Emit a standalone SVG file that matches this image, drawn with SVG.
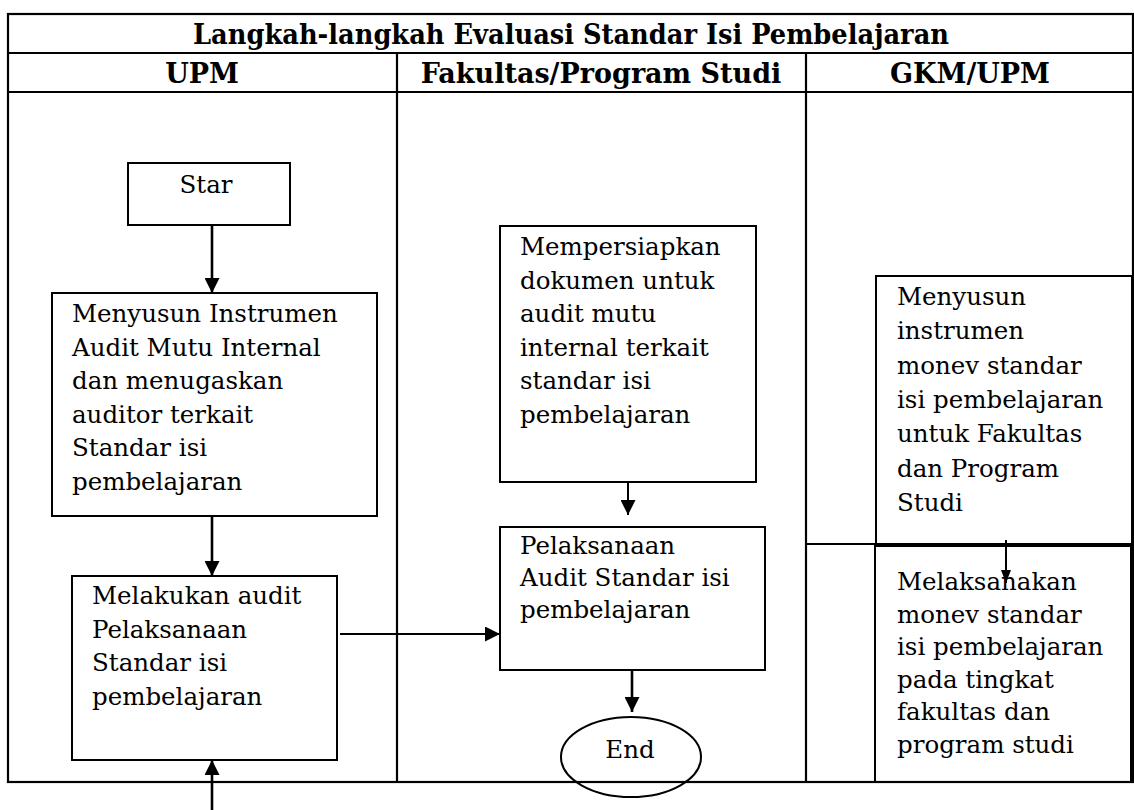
<svg xmlns="http://www.w3.org/2000/svg" width="1134" height="810" viewBox="0 0 1134 810">
<style>
.tbl{stroke:#000;stroke-width:2.2;fill:none}
.box{fill:none;stroke:#000;stroke-width:2}
.t{font-family:"DejaVu Serif","Liberation Serif",serif;font-size:24.5px;fill:#000}
.h{font-family:"DejaVu Serif","Liberation Serif",serif;font-weight:bold;font-size:27px;fill:#000;text-anchor:middle}
.c{stroke:#000;stroke-width:2.6;fill:none}
.c2{stroke:#000;stroke-width:2;fill:none}
</style>
<defs>
<marker id="ah" markerUnits="userSpaceOnUse" markerWidth="15" markerHeight="15" refX="15" refY="7.5" orient="auto">
<path d="M0,0 L15,7.5 L0,15 z" fill="#000"/>
</marker>
<marker id="ahs" markerUnits="userSpaceOnUse" markerWidth="13" markerHeight="10" refX="13" refY="5" orient="auto">
<path d="M0,0 L13,5 L0,10 z" fill="#000"/>
</marker>
</defs>
<rect width="1134" height="810" fill="#fff"/>
<g id="table">
<rect class="tbl" x="8" y="14" width="1125" height="768"/>
<line class="tbl" x1="8" y1="53" x2="1133" y2="53"/>
<line class="tbl" x1="8" y1="92" x2="1133" y2="92"/>
<line class="tbl" x1="397" y1="53" x2="397" y2="782"/>
<line class="tbl" x1="806" y1="53" x2="806" y2="782"/>
<line class="tbl" x1="806" y1="544" x2="1133" y2="544"/>
<text class="h" x="571" y="44" font-size="29" textLength="756" lengthAdjust="spacingAndGlyphs">Langkah-langkah Evaluasi Standar Isi Pembelajaran</text>
<text class="h" x="202" y="83">UPM</text>
<text class="h" x="601" y="83">Fakultas/Program Studi</text>
<text class="h" x="970" y="83">GKM/UPM</text>
</g>
<g id="connectors">
<line class="c" x1="212" y1="225" x2="212" y2="293" marker-end="url(#ah)"/>
<line class="c" x1="212" y1="516" x2="212" y2="576" marker-end="url(#ah)"/>
<line class="c" x1="212" y1="810" x2="212" y2="760" marker-end="url(#ah)"/>
<line class="c2" x1="340" y1="634" x2="500" y2="634" marker-end="url(#ah)"/>
<line class="c2" x1="628" y1="482" x2="628" y2="515" marker-end="url(#ah)"/>
<line class="c" x1="632" y1="670" x2="632" y2="712" marker-end="url(#ah)"/>
<line class="c2" x1="1006" y1="540" x2="1006" y2="583" marker-end="url(#ahs)"/>
</g>
<g id="star">
<rect class="box" x="128" y="163" width="162" height="62"/>
<text class="t" x="206" y="193" text-anchor="middle">Star</text>
</g>
<g id="menyusun-instrumen">
<rect class="box" x="52" y="293" width="325" height="223"/>
<text class="t"><tspan x="72" y="322">Menyusun Instrumen</tspan><tspan x="72" y="355.6">Audit Mutu Internal</tspan><tspan x="72" y="389.2">dan menugaskan</tspan><tspan x="72" y="422.8">auditor terkait</tspan><tspan x="72" y="456.4">Standar isi</tspan><tspan x="72" y="490">pembelajaran</tspan></text>
</g>
<g id="melakukan-audit">
<rect class="box" x="72" y="576" width="265" height="184"/>
<text class="t"><tspan x="92" y="604">Melakukan audit</tspan><tspan x="92" y="637.6">Pelaksanaan</tspan><tspan x="92" y="671.2">Standar isi</tspan><tspan x="92" y="704.8">pembelajaran</tspan></text>
</g>
<g id="mempersiapkan">
<rect class="box" x="500" y="226" width="256" height="256"/>
<text class="t"><tspan x="520" y="255">Mempersiapkan</tspan><tspan x="520" y="288.6">dokumen untuk</tspan><tspan x="520" y="322.2">audit mutu</tspan><tspan x="520" y="355.8">internal terkait</tspan><tspan x="520" y="389.4">standar isi</tspan><tspan x="520" y="423">pembelajaran</tspan></text>
</g>
<g id="pelaksanaan">
<rect class="box" x="500" y="527" width="265" height="143"/>
<text class="t"><tspan x="520" y="554">Pelaksanaan</tspan><tspan x="520" y="586">Audit Standar isi</tspan><tspan x="520" y="618">pembelajaran</tspan></text>
</g>
<g id="end">
<ellipse class="box" cx="631" cy="757" rx="70" ry="40"/>
<text class="t" x="630" y="758" text-anchor="middle">End</text>
</g>
<g id="menyusun-monev">
<rect class="box" x="876" y="276" width="256" height="268"/>
<text class="t"><tspan x="897" y="305">Menyusun</tspan><tspan x="897" y="339.3">instrumen</tspan><tspan x="897" y="373.6">monev standar</tspan><tspan x="897" y="407.9">isi pembelajaran</tspan><tspan x="897" y="442.2">untuk Fakultas</tspan><tspan x="897" y="476.5">dan Program</tspan><tspan x="897" y="510.8">Studi</tspan></text>
</g>
<g id="melaksanakan-monev">
<rect class="box" x="875" y="546" width="256" height="236"/>
<text class="t"><tspan x="897" y="590">Melaksanakan</tspan><tspan x="897" y="622.6">monev standar</tspan><tspan x="897" y="655.2">isi pembelajaran</tspan><tspan x="897" y="687.8">pada tingkat</tspan><tspan x="897" y="720.4">fakultas dan</tspan><tspan x="897" y="753">program studi</tspan></text>
</g>
</svg>
